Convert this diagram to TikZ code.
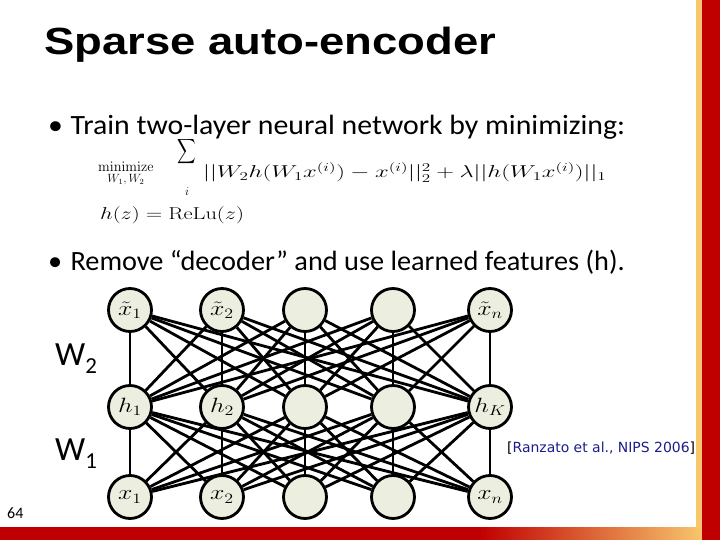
\documentclass[tikz,border=0pt]{standalone}
\usepackage[no-math]{fontspec}
\usepackage{amsmath}
\setmainfont{Carlito}
\newfontfamily\titlefont{Liberation Sans}
\newfontfamily\citefont{DejaVu Sans}
\usetikzlibrary{positioning}

\definecolor{slidered}{HTML}{C00000}
\definecolor{slideorange}{HTML}{E2703A}
\definecolor{slideyellow}{HTML}{F8C66C}
\definecolor{unitfill}{HTML}{ECEEDF}
\definecolor{citeblue}{HTML}{1C1C8C}

\begin{document}
\begin{tikzpicture}[
    x=1bp, y=-1bp,
    unit/.style={circle, draw=black, line width=2.8bp, fill=unitfill,
        minimum size=43bp, inner sep=0pt, font=\fontsize{22}{24}\selectfont}, % Network units
    weight/.style={line width=2.8bp}, % Connections between layers
    slidetext/.style={anchor=base west, inner sep=0pt}, % Base style for texts
    bullettext/.style={slidetext, font=\fontsize{28}{30}\selectfont},
    wlabel/.style={slidetext, font=\fontsize{34}{36}\selectfont}
]
    \useasboundingbox (0,0) rectangle (720,540);

    % Slide frame
    \fill[slidered] (0,527) rectangle (480,540);
    \shade[left color=slidered, middle color=slideorange, right color=slideyellow]
        (480,527) rectangle (702,540);
    \fill[slideyellow] (696,0) rectangle (702,527);
    \fill[slidered] (702,0) rectangle (720,540);

    % Title and bullets
    \node[slidetext, font=\titlefont\bfseries\fontsize{38}{40}\selectfont] (title) at (44,55)
        {\scalebox{1.2}[1]{Sparse auto-encoder}};
    \node[bullettext] (train) at (48,135)
        {\scalebox{1.068}[1]{\makebox[21bp][l]{•}Train two-layer neural network by minimizing:}};
    \node[bullettext] (remove) at (48,271)
        {\scalebox{1.015}[1]{\makebox[22bp][l]{•}Remove “decoder” and use learned features (h).}};

    % Objective
    \node[slidetext, font=\fontsize{15}{18}\selectfont] (minop) at (98,172)
        {$\displaystyle\operatorname*{minimize}_{\mbox{\fontsize{12}{13}\selectfont$W_1,W_2$}}$};
    \node[inner sep=0pt, font=\fontsize{19}{20}\selectfont] (sumop) at (187,152)
        {\scalebox{0.75}[1]{$\displaystyle\sum$}};
    \node[inner sep=0pt, font=\fontsize{13}{15}\selectfont] (sumidx) at (187,192) {$i$};
    \node[slidetext, font=\fontsize{17.5}{20}\selectfont] (loss) at (203,178)
        {\scalebox{1.43}[1]{$||W_2h(W_1x^{(i)})-x^{(i)}||_2^2+\lambda||h(W_1x^{(i)})||_1$}};
    \node[slidetext, font=\fontsize{17.5}{20}\selectfont] (relu) at (100,220)
        {\scalebox{1.3}[1]{$h(z)=\mathrm{ReLu}(z)$}};

    % Units: output, hidden and input layers
    \foreach \i/\cx/\lo/\lh/\lx in {1/130/{$\tilde{x}_1$}/{$h_1$}/{$x_1$},
                                  2/222/{$\tilde{x}_2$}/{$h_2$}/{$x_2$},
                                  3/305/{}/{}/{},
                                  4/393/{}/{}/{},
                                  5/490/{$\tilde{x}_n$}/{$h_K$}/{$x_n$}} {
        \node[unit] (o\i) at (\cx,310) {\scalebox{1.25}[1]{\lo}};
        \node[unit] (h\i) at (\cx,407) {\scalebox{1.25}[1]{\lh}};
        \node[unit] (x\i) at (\cx,497) {\scalebox{1.25}[1]{\lx}};
    }

    % Fully connected weights
    \foreach \i in {1,...,5} {
        \foreach \j in {1,...,5} {
            \draw[weight] (x\i) -- (h\j);
            \draw[weight] (h\i) -- (o\j);
        }
    }

    % Weight labels
    \node[wlabel] (w2) at (55,365) {W\raisebox{-8bp}{\fontsize{23}{24}\selectfont 2}};
    \node[wlabel] (w1) at (55,460) {W\raisebox{-8bp}{\fontsize{23}{24}\selectfont 1}};

    % Reference and page number
    \node[slidetext, font=\citefont\fontsize{14}{16}\selectfont] (cite) at (507,452)
        {[\textcolor{citeblue}{Ranzato et al., NIPS 2006}]};
    \node[slidetext, font=\fontsize{16}{18}\selectfont] (page) at (7,518) {64};
\end{tikzpicture}
\end{document}
